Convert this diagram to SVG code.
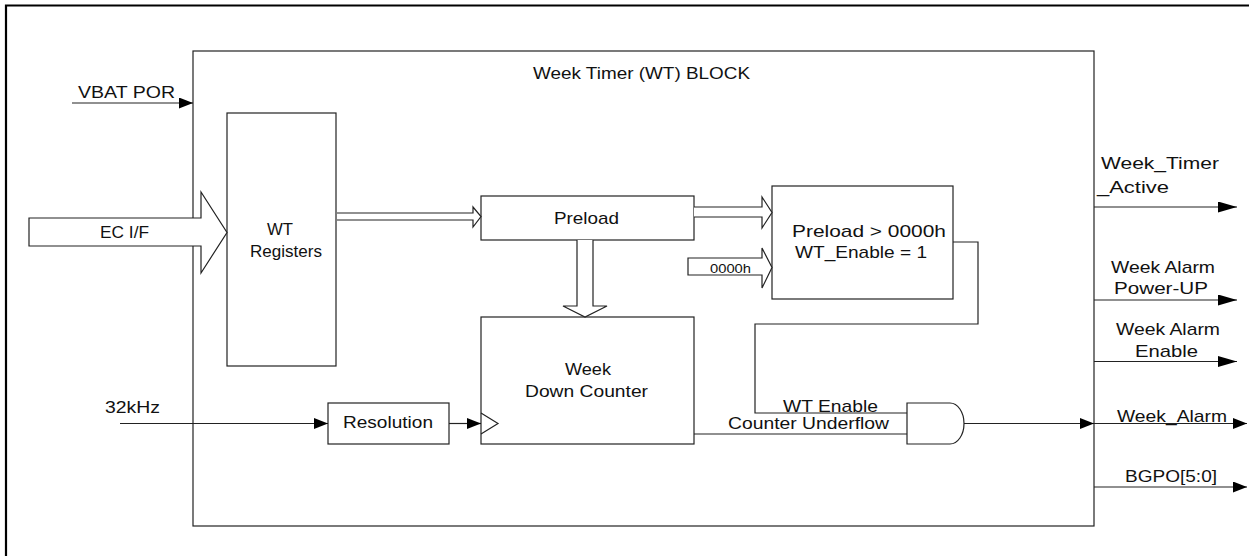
<svg xmlns="http://www.w3.org/2000/svg" width="1249" height="556" viewBox="0 0 1249 556">
<style>
text{font-family:"Liberation Sans",Arial,sans-serif;font-size:17px;fill:#111}
.box{fill:#fff;stroke:#222;stroke-width:1.2}
.ln{fill:none;stroke:#222;stroke-width:1.2}
.hol{fill:#fff;stroke:#222;stroke-width:1.2}
.sm{font-size:12px}
</style>
<defs>
<marker id="arr" viewBox="0 0 14 11" markerWidth="14" markerHeight="11" refX="14" refY="5.5" orient="auto" markerUnits="userSpaceOnUse"><path d="M0,0 L14,5.5 L0,11 z" fill="#000"/></marker>
<marker id="arrL" viewBox="0 0 19 11" markerWidth="19" markerHeight="11" refX="19" refY="5.5" orient="auto" markerUnits="userSpaceOnUse"><path d="M0,0 L19,5.5 L0,11 z" fill="#000"/></marker>
</defs>
<rect width="1249" height="556" fill="#fff"/>
<g id="frame"><path d="M6,556 V5.5 H1249" fill="none" stroke="#000" stroke-width="2.2"/></g>
<g id="wt-block"><rect class="box" x="193" y="51" width="901" height="475"/><text x="533" y="79" textLength="217" lengthAdjust="spacingAndGlyphs">Week Timer (WT) BLOCK</text></g>
<g id="wt-registers"><rect class="box" x="227" y="113" width="109" height="253"/><text x="267" y="235" textLength="26" lengthAdjust="spacingAndGlyphs">WT</text><text x="250" y="257" textLength="72" lengthAdjust="spacingAndGlyphs">Registers</text></g>
<g id="preload"><rect class="box" x="481" y="196" width="213" height="44"/><text x="554" y="224" textLength="65" lengthAdjust="spacingAndGlyphs">Preload</text></g>
<g id="down-counter"><rect class="box" x="481" y="317" width="213" height="127"/><text x="565" y="375" textLength="46" lengthAdjust="spacingAndGlyphs">Week</text><text x="525" y="397" textLength="123" lengthAdjust="spacingAndGlyphs">Down Counter</text><path class="ln" d="M481,413 L498,423.5 L481,434"/></g>
<g id="compare"><rect class="box" x="772" y="186" width="181" height="113"/><text x="792" y="237" textLength="154" lengthAdjust="spacingAndGlyphs">Preload &gt; 0000h</text><text x="795" y="258" textLength="132" lengthAdjust="spacingAndGlyphs">WT_Enable = 1</text></g>
<g id="resolution"><rect class="box" x="328" y="403" width="121" height="41"/><text x="343" y="428" textLength="90" lengthAdjust="spacingAndGlyphs">Resolution</text></g>
<g id="and-gate"><path class="box" d="M907,403 H950 A14,20.5 0 0 1 950,444 H907 Z"/></g>
<g id="connectors">
<path class="hol" d="M29,218 H201 V192 L227,232.5 L201,273 V246 H29 Z"/>
<text x="100" y="238" textLength="49" lengthAdjust="spacingAndGlyphs">EC I/F</text>
<path class="hol" d="M337,213 H473 V207 L481,216.5 L473,227 V220 H337"/>
<path class="hol" d="M694,207 H762 V197 L772,212.5 L762,228 V217 H694"/>
<path class="hol" d="M688,258 H762 V248 L772,267.5 L762,288 V275 H688 Z"/>
<text class="sm" x="710" y="273" textLength="41" lengthAdjust="spacingAndGlyphs">0000h</text>
<path class="hol" d="M577,240 V306 H563 L585,317 L607,306 H593 V240"/>
<path class="ln" d="M72,103 H193" marker-end="url(#arr)"/>
<text x="78" y="98" textLength="97" lengthAdjust="spacingAndGlyphs">VBAT POR</text>
<path class="ln" d="M120,423.5 H328" marker-end="url(#arr)"/>
<text x="105" y="413" textLength="55" lengthAdjust="spacingAndGlyphs">32kHz</text>
<path class="ln" d="M449,423.5 H481" marker-end="url(#arr)"/>
<path class="ln" d="M953,242 H978 V324 H755 V413 H907"/>
<path class="ln" d="M694,434 H907"/>
<text x="783" y="412" textLength="95" lengthAdjust="spacingAndGlyphs">WT Enable</text>
<text x="728" y="429" textLength="161" lengthAdjust="spacingAndGlyphs">Counter Underflow</text>
<path class="ln" d="M964,423.5 H1094" marker-end="url(#arr)"/>
<path class="ln" d="M1094,423.5 H1247" marker-end="url(#arr)"/>
<text x="1117" y="422" textLength="110" lengthAdjust="spacingAndGlyphs">Week_Alarm</text>
<path class="ln" d="M1094,207 H1237" marker-end="url(#arrL)"/>
<text x="1101" y="169" textLength="118" lengthAdjust="spacingAndGlyphs">Week_Timer</text>
<text x="1097" y="193" textLength="72" lengthAdjust="spacingAndGlyphs">_Active</text>
<path class="ln" d="M1094,300 H1237" marker-end="url(#arrL)"/>
<text x="1111" y="273" textLength="104" lengthAdjust="spacingAndGlyphs">Week Alarm</text>
<text x="1114" y="294" textLength="94" lengthAdjust="spacingAndGlyphs">Power-UP</text>
<path class="ln" d="M1094,361.5 H1237" marker-end="url(#arrL)"/>
<text x="1116" y="335" textLength="104" lengthAdjust="spacingAndGlyphs">Week Alarm</text>
<text x="1135" y="357" textLength="63" lengthAdjust="spacingAndGlyphs">Enable</text>
<path class="ln" d="M1094,487 H1247" marker-end="url(#arr)"/>
<text x="1125" y="482" textLength="92" lengthAdjust="spacingAndGlyphs">BGPO[5:0]</text>
</g>
</svg>
